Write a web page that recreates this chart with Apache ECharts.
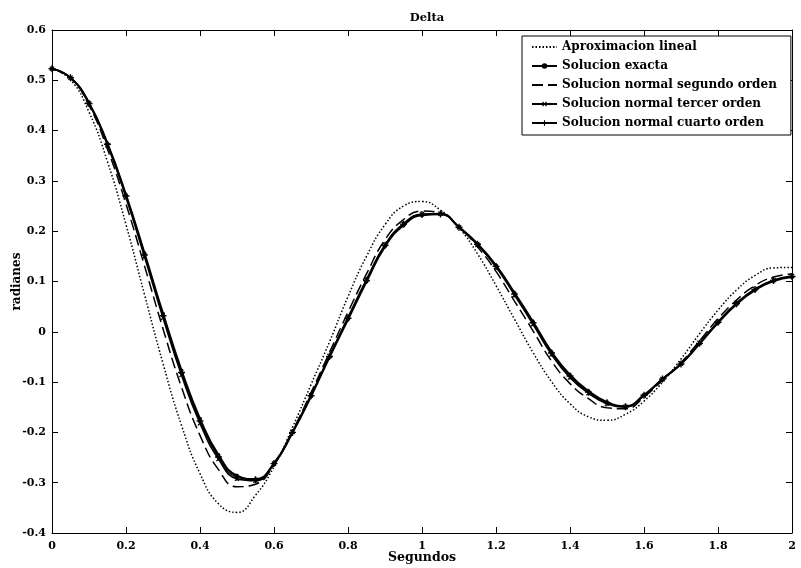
<!DOCTYPE html>
<html>
<head>
<meta charset="utf-8">
<script src="https://cdn.jsdelivr.net/npm/echarts@6/dist/echarts.min.js"></script>
<style>
html,body{margin:0;padding:0;background:#fff;}
#chart{width:801px;height:568px;}
</style>
</head>
<body>
<div id="chart"></div>
<script>
// Time (s)
var tiempo = [0,0.05,0.1,0.15,0.2,0.25,0.3,0.35,0.4,0.45,0.5,0.55,0.6,0.65,0.7,0.75,0.8,0.85,0.9,0.95,1,1.05,1.1,1.15,1.2,1.25,1.3,1.35,1.4,1.45,1.5,1.55,1.6,1.65,1.7,1.75,1.8,1.85,1.9,1.95,2];

var aproxLineal = [0.523,0.501,0.437,0.338,0.213,0.074,-0.063,-0.186,-0.282,-0.342,-0.359,-0.325,-0.268,-0.190,-0.105,-0.020,0.070,0.150,0.213,0.250,0.259,0.242,0.207,0.155,0.092,0.025,-0.041,-0.099,-0.143,-0.169,-0.176,-0.164,-0.138,-0.100,-0.054,-0.004,0.043,0.083,0.112,0.127,0.128];

var exacta = [0.523,0.505,0.455,0.374,0.272,0.156,0.036,-0.077,-0.173,-0.245,-0.286,-0.293,-0.262,-0.200,-0.128,-0.050,0.025,0.100,0.170,0.212,0.232,0.234,0.208,0.175,0.132,0.077,0.020,-0.040,-0.086,-0.118,-0.140,-0.148,-0.126,-0.094,-0.064,-0.024,0.018,0.055,0.083,0.101,0.109];

var segundoOrden = [0.523,0.504,0.450,0.363,0.254,0.131,0.006,-0.110,-0.206,-0.274,-0.308,-0.303,-0.264,-0.197,-0.121,-0.041,0.039,0.115,0.183,0.223,0.240,0.236,0.208,0.169,0.120,0.061,0.002,-0.058,-0.103,-0.133,-0.151,-0.153,-0.130,-0.096,-0.061,-0.018,0.026,0.063,0.092,0.109,0.115];

var tercerOrden = [0.523,0.505,0.454,0.371,0.267,0.149,0.028,-0.086,-0.182,-0.253,-0.292,-0.296,-0.262,-0.199,-0.126,-0.048,0.029,0.104,0.173,0.215,0.234,0.235,0.208,0.173,0.129,0.073,0.015,-0.045,-0.091,-0.122,-0.143,-0.149,-0.127,-0.094,-0.063,-0.022,0.020,0.057,0.085,0.103,0.111];

var cuartoOrden = [0.523,0.505,0.454,0.373,0.270,0.153,0.032,-0.081,-0.177,-0.249,-0.289,-0.294,-0.262,-0.200,-0.127,-0.049,0.027,0.102,0.172,0.214,0.233,0.234,0.208,0.174,0.130,0.075,0.018,-0.042,-0.088,-0.120,-0.141,-0.149,-0.126,-0.094,-0.064,-0.023,0.019,0.056,0.084,0.102,0.110];

var nombres = ['Aproximacion lineal','Solucion exacta','Solucion normal segundo orden','Solucion normal tercer orden','Solucion normal cuarto orden'];

function pares(v){ return tiempo.map(function(t,i){ return [t, v[i]]; }); }

var FONT = '"DejaVu Serif", "Liberation Serif", serif';
var plusPath = 'path://M4,0H6V4H10V6H6V10H4V6H0V4H4Z';
var hidden = {color:'rgba(0,0,0,0)', borderWidth:0};

var chart = echarts.init(document.getElementById('chart'), null, {renderer:'canvas'});
var axisCommon = {
  type:'value',
  axisLine:{show:true, onZero:false, lineStyle:{color:'#000', width:1}},
  axisTick:{show:true, inside:true, length:6, lineStyle:{color:'#000'}},
  splitLine:{show:false}
};
chart.setOption({
  animation:false,
  backgroundColor:'#fff',
  title:{text:'Delta', left:422, textAlign:'center', top:7,
    textStyle:{fontFamily:FONT, fontWeight:'bold', fontSize:11.5, color:'#000'}},
  grid:{left:52, right:9, top:30, bottom:35, containLabel:false, outerBoundsMode:'none'},
  legend:{
    orient:'vertical', left:522, top:36,
    backgroundColor:'#fff', borderColor:'#000', borderWidth:1,
    padding:[5,14,6,9], itemGap:7, itemWidth:25, itemHeight:7,
    textStyle:{fontFamily:FONT, fontWeight:'bold', fontSize:12, color:'#000'},
    data:[
      {name:nombres[0], itemStyle:hidden},
      {name:nombres[1]},
      {name:nombres[2], itemStyle:hidden},
      {name:nombres[3]},
      {name:nombres[4]}
    ]
  },
  xAxis:[
    Object.assign({}, axisCommon, {min:0, max:2, interval:0.2, position:'bottom',
      name:'Segundos', nameLocation:'middle', nameGap:18, nameMoveOverlap:false,
      nameTextStyle:{fontFamily:FONT, fontWeight:'bold', fontSize:12.5, color:'#000'},
      axisLabel:{margin:8, fontFamily:FONT, fontWeight:'bold', fontSize:11, color:'#000'}}),
    Object.assign({}, axisCommon, {min:0, max:2, interval:0.2, position:'top',
      axisLabel:{show:false}})
  ],
  yAxis:[
    Object.assign({}, axisCommon, {min:-0.4, max:0.6, interval:0.1, position:'left',
      name:'radianes', nameLocation:'middle', nameGap:29, nameRotate:90, nameMoveOverlap:false,
      nameTextStyle:{fontFamily:FONT, fontWeight:'bold', fontSize:12, color:'#000'},
      axisLabel:{margin:6, fontFamily:FONT, fontWeight:'bold', fontSize:11, color:'#000'}}),
    Object.assign({}, axisCommon, {min:-0.4, max:0.6, interval:0.1, position:'right',
      axisLabel:{show:false}})
  ],
  series:[
    {name:nombres[0], type:'line', data:pares(aproxLineal), smooth:true, symbol:'none',
      lineStyle:{color:'#000', width:1.5, type:[1.5,2]}, itemStyle:{color:'#000'}},
    {name:nombres[1], type:'line', data:pares(exacta), smooth:true, symbol:'circle', symbolSize:4,
      showAllSymbol:true,
      lineStyle:{color:'#000', width:2.2}, itemStyle:{color:'#000'}},
    {name:nombres[2], type:'line', data:pares(segundoOrden), smooth:true, symbol:'none',
      lineStyle:{color:'#000', width:1.5, type:[11,5]}, itemStyle:{color:'#000'}},
    {name:nombres[3], type:'line', data:pares(tercerOrden), smooth:true, symbol:plusPath, symbolSize:6,
      symbolRotate:45, showAllSymbol:true,
      lineStyle:{color:'#000', width:1.6}, itemStyle:{color:'#000'}},
    {name:nombres[4], type:'line', data:pares(cuartoOrden), smooth:true, symbol:plusPath, symbolSize:7,
      showAllSymbol:true,
      lineStyle:{color:'#000', width:1.4}, itemStyle:{color:'#000'}}
  ]
});
</script>
</body>
</html>
